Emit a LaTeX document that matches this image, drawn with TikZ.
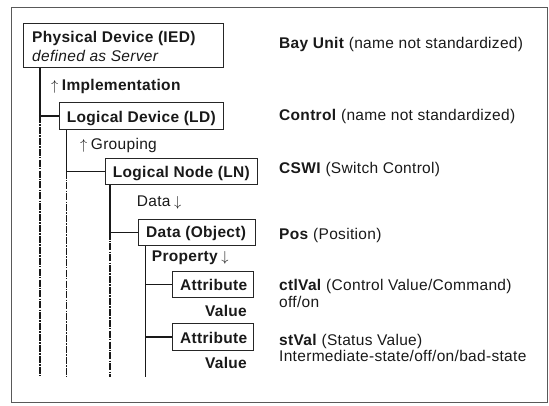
\documentclass[tikz,border=0pt]{standalone}
\usepackage{fontspec}
\setmainfont{Liberation Sans}[LetterSpace=2]
\newcommand{\upar}{$\uparrow$}
\newcommand{\dnar}{$\downarrow$}
\begin{document}
\begin{tikzpicture}[x=1pt,y=-1pt,
  box/.style={draw=black!85, line width=1.1pt, rectangle, inner sep=0pt, anchor=north west},
  lbl/.style={anchor=base west, inner sep=0pt, text=black!90, font=\fontsize{15.5}{18}\selectfont},
  lblb/.style={lbl, font=\fontsize{15.5}{18}\selectfont\bfseries},
  lblr/.style={lblb, anchor=base east},
  link/.style={draw=black!90, line width=1.4pt},
  trail/.style={link, dash pattern=on 7pt off 1.2pt on 1.5pt off 1.2pt},
]
\useasboundingbox (0,0) rectangle (549,405);
\draw[black!65, line width=0.9pt] (11,7) rectangle (547,402);

% boxes
\node[box, minimum width=200pt, minimum height=44pt] (pd) at (22.7,22.7) {};
\node[box, minimum width=164pt, minimum height=27pt] (ld) at (59,102) {};
\node[box, minimum width=152pt, minimum height=26pt] (ln) at (105,158) {};
\node[box, minimum width=117pt, minimum height=26pt] (do) at (138,219) {};
\node[box, minimum width=81pt, minimum height=26pt] (a1) at (172,271) {};
\node[box, minimum width=81pt, minimum height=27pt] (a2) at (172,323) {};

% box texts
\node[lblb] (tpd) at (32,42.7) {Physical Device (IED)};
\node[lbl, font=\fontsize{15.5}{18}\selectfont\itshape] (tsrv) at (32,61.5) {defined as Server};
\node[lbl] (timp) at (51,90) {\upar\hspace{3.5pt}\textbf{Implementation}};
\node[lbl] (tgrp) at (80,149.5) {\upar\hspace{3.5pt}Grouping};
\node[lblb] (tld) at (66.7,122.7) {Logical Device (LD)};
\node[lblb] (tln) at (112.7,177.7) {Logical Node (LN)};
\node[lbl] (tdat) at (136.7,206.7) {Data\hspace{3.5pt}\dnar};
\node[lblb] (tdo) at (146,237) {Data (Object)};
\node[lblb] (tprop) at (151.7,261.7) {Property\hspace{3.5pt}\dnar};
\node[lblb] (ta1) at (180,290) {Attribute};
\node[lblr] (tv1) at (247,316) {Value};
\node[lblb] (ta2) at (180,343) {Attribute};
\node[lblr] (tv2) at (247,368) {Value};

% right column
\node[lbl] (rbay) at (279,48.3) {\textbf{Bay Unit} (name not standardized)};
\node[lbl] (rctl) at (279,120.7) {\textbf{Control} (name not standardized)};
\node[lbl] (rcswi) at (279,173.3) {\textbf{CSWI} (Switch Control)};
\node[lbl] (rpos) at (279,239) {\textbf{Pos} (Position)};
\node[lbl] (rctv) at (279,290.7) {\textbf{ctlVal} (Control Value/Command)};
\node[lbl] (roo) at (279,307) {off/on};
\node[lbl] (rstv) at (279,345) {\textbf{stVal} (Status Value)};
\node[lbl] (rint) at (279,361.7) {Intermediate-state/off/on/bad-state};

% trunk ends
\coordinate (e1) at (40,377);
\coordinate (e2) at (66.7,377);
\coordinate (e3) at (110,377);
\coordinate (e4) at (145.7,377);

% connectors
\draw[link] (pd.south -| e1) -- (ld.west -| e1) -- (ld.west);
\draw[trail] (ld.west -| e1) -- (e1);
\draw[link] (ld.south -| e2) -- (ln.west -| e2) -- (ln.west);
\draw[trail] (ln.west -| e2) -- (e2);
\draw[link] (ln.south -| e3) -- (do.west -| e3) -- (do.west);
\draw[trail] (do.west -| e3) -- (e3);
\draw[link] (do.south -| e4) -- (a1.west -| e4) -- (a1.west);
\draw[link] (a1.west -| e4) -- (a2.west -| e4) -- (a2.west);
\draw[link] (a2.west -| e4) -- (e4);
\end{tikzpicture}
\end{document}
